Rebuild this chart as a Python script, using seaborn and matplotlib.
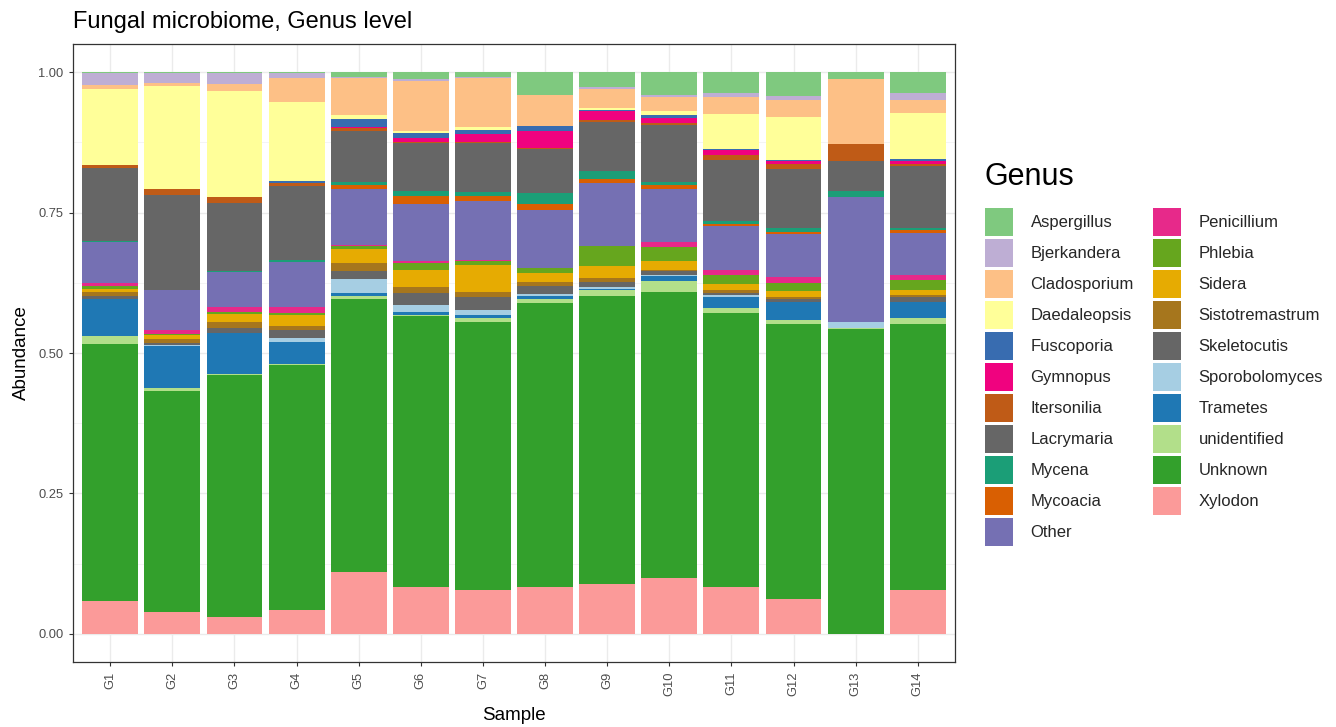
import matplotlib
matplotlib.use("Agg")
import matplotlib.pyplot as plt
import numpy as np
import pandas as pd
import seaborn as sns

# Samples and genera (legend order; the first genus sits on top of each stack)
samples = [f"G{i}" for i in range(1, 15)]
genera = ["Aspergillus", "Bjerkandera", "Cladosporium", "Daedaleopsis", "Fuscoporia",
          "Gymnopus", "Itersonilia", "Lacrymaria", "Mycena", "Mycoacia", "Other",
          "Penicillium", "Phlebia", "Sidera", "Sistotremastrum", "Skeletocutis",
          "Sporobolomyces", "Trametes", "unidentified", "Unknown", "Xylodon"]
colors = ["#7FC97F", "#BEAED4", "#FDC086", "#FFFF99", "#386CB0",
          "#F0027F", "#BF5B17", "#666666", "#1B9E77", "#D95F02", "#7570B3",
          "#E7298A", "#66A61E", "#E6AB02", "#A6761D", "#666666",
          "#A6CEE3", "#1F78B4", "#B2DF8A", "#33A02C", "#FB9A99"]

# Relative abundance per genus, samples G1..G14
aspergillus     = [.002, .002, .002, .002, .009, .012, .009, .041, .027, .040, .037, .042, .012, .037]
bjerkandera     = [.021, .017, .019, .009, .002, .004, .001, .000, .003, .005, .007, .007, .000, .012]
cladosporium    = [.007, .005, .012, .043, .066, .088, .088, .055, .034, .024, .031, .031, .116, .024]
daedaleopsis    = [.135, .185, .190, .140, .007, .004, .005, .001, .003, .007, .062, .076, .000, .081]
fuscoporia      = [.000, .000, .000, .003, .014, .009, .007, .008, .002, .005, .002, .003, .000, .005]
gymnopus        = [.000, .000, .000, .000, .002, .007, .014, .031, .016, .009, .008, .004, .000, .005]
itersonilia     = [.005, .010, .011, .005, .005, .002, .002, .001, .003, .005, .009, .010, .031, .004]
lacrymaria      = [.130, .169, .121, .133, .091, .084, .088, .079, .088, .100, .109, .105, .052, .110]
mycena          = [.002, .001, .002, .002, .004, .009, .007, .019, .014, .007, .005, .006, .012, .004]
mycoacia        = [.000, .000, .000, .000, .007, .014, .008, .011, .008, .007, .005, .004, .000, .005]
other           = [.072, .071, .062, .081, .100, .102, .105, .103, .111, .093, .078, .076, .222, .075]
penicillium     = [.005, .006, .008, .010, .003, .003, .003, .000, .000, .010, .008, .012, .000, .009]
phlebia         = [.006, .003, .004, .004, .005, .012, .007, .009, .036, .024, .017, .014, .000, .017]
sidera          = [.005, .007, .014, .019, .024, .031, .047, .017, .021, .017, .011, .011, .000, .009]
sistotremastrum = [.007, .007, .012, .007, .014, .011, .009, .007, .008, .002, .004, .003, .000, .004]
skeletocutis    = [.005, .003, .008, .015, .015, .021, .024, .014, .009, .007, .004, .005, .000, .008]
sporobolomyces  = [.000, .002, .000, .007, .025, .012, .009, .004, .002, .001, .004, .000, .010, .000]
trametes        = [.066, .074, .073, .039, .005, .005, .005, .004, .002, .009, .019, .033, .000, .030]
unidentified    = [.015, .007, .002, .002, .005, .002, .007, .007, .012, .019, .009, .007, .002, .009]
unknown         = [.455, .393, .431, .435, .486, .481, .476, .508, .512, .510, .489, .489, .543, .474]
xylodon         = [.059, .039, .031, .043, .110, .083, .079, .083, .088, .100, .083, .062, .000, .079]

series = [aspergillus, bjerkandera, cladosporium, daedaleopsis, fuscoporia, gymnopus,
          itersonilia, lacrymaria, mycena, mycoacia, other, penicillium, phlebia, sidera,
          sistotremastrum, skeletocutis, sporobolomyces, trametes, unidentified, unknown,
          xylodon]

rows = []
for genus, values in zip(genera, series):
    for sample, v in zip(samples, values):
        rows.append({"Sample": sample, "Genus": genus, "Abundance": v})
df = pd.DataFrame(rows)
df["Sample"] = pd.Categorical(df["Sample"], categories=samples, ordered=True)
# proportions within each sample
df["Abundance"] = df["Abundance"] / df.groupby("Sample", observed=True)["Abundance"].transform("sum")

sns.set_theme(style="white")
plt.rcParams["font.family"] = ["Liberation Sans", "DejaVu Sans"]

W, H = 1336, 727
fig = plt.figure(figsize=(W / 100, H / 100), dpi=100)
L, R, T, B = 73, 955, 44, 662
ax = fig.add_axes([L / W, 1 - B / H, (R - L) / W, (B - T) / H])

sns.histplot(data=df, x="Sample", weights="Abundance", hue="Genus", hue_order=genera,
             palette=dict(zip(genera, colors)), multiple="stack", discrete=True,
             shrink=0.9, alpha=1, linewidth=0, ax=ax, zorder=2)

ax.set_xlim(-0.6, 13.6)
ax.set_ylim(-0.05, 1.05)
ax.set_xticks(range(len(samples)))
ax.set_xticklabels(samples, rotation=90)
ax.set_yticks([0, 0.25, 0.5, 0.75, 1.0])
ax.set_yticklabels(["0.00", "0.25", "0.50", "0.75", "1.00"])
ax.set_yticks([0.125, 0.375, 0.625, 0.875], minor=True)

ax.grid(True, which="major", color="#EBEBEB", linewidth=1.0, zorder=0)
ax.grid(True, which="minor", axis="y", color="#F2F2F2", linewidth=0.6, zorder=0)
ax.set_axisbelow(True)
for sp in ax.spines.values():
    sp.set_color("#333333")
    sp.set_linewidth(0.9)
    sp.set_visible(True)

ax.tick_params(axis="both", which="major", length=3, width=0.8, color="#333333",
               labelsize=9.3, labelcolor="#4D4D4D", pad=4, left=True, bottom=True)
ax.tick_params(axis="both", which="minor", length=0)

ax.set_xlabel("Sample", fontsize=13.5, color="black", labelpad=8)
ax.set_ylabel("Abundance", fontsize=13.5, color="black", labelpad=6)

fig.text(L / W, 1 - 22 / H, "Fungal microbiome, Genus level", fontsize=17,
         ha="left", va="center", color="black")

# Legend title drawn on its own so the gap above the keys can be set freely
fig.text(984 / W, 1 - 177 / H, "Genus", fontsize=22, ha="left", va="center",
         color="black")
sns.move_legend(ax, loc="upper left", bbox_to_anchor=(985 / W, 1 - 208 / H),
                bbox_transform=fig.transFigure, ncol=2, title=None, frameon=False,
                fontsize=12, handlelength=1.68, handleheight=2.21,
                labelspacing=0.18, handletextpad=1.05, columnspacing=1.16,
                borderpad=0, borderaxespad=0)

fig.savefig("out.png", dpi=100)
